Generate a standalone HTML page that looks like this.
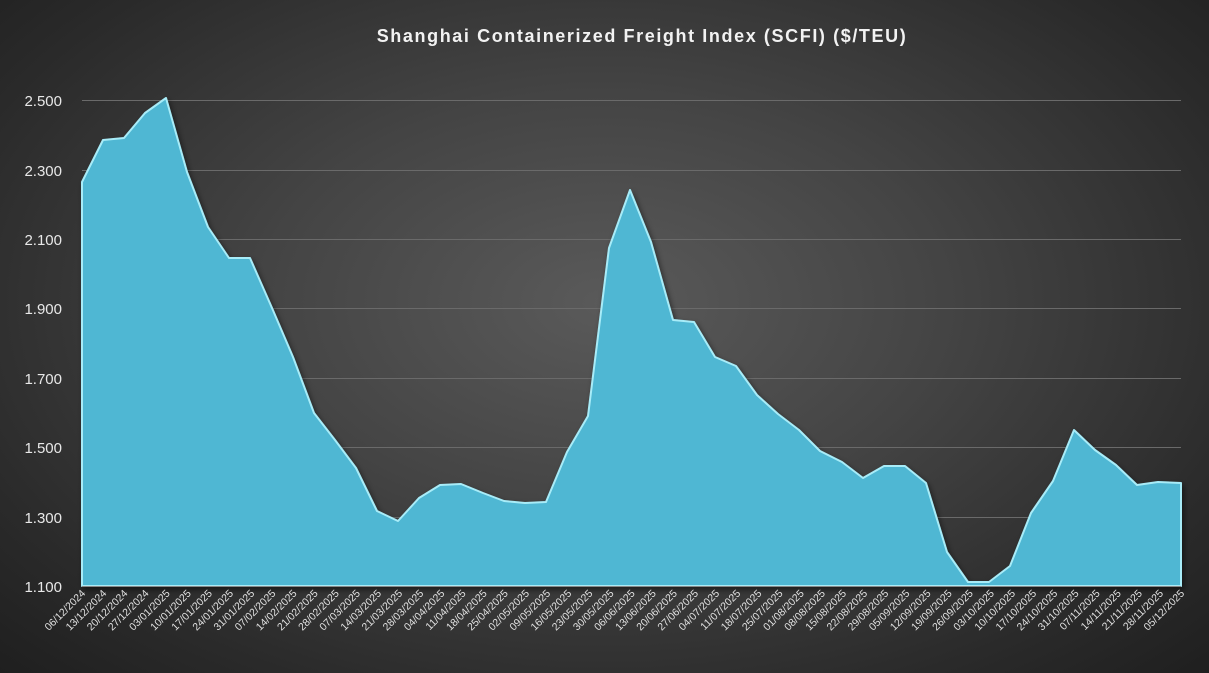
<!DOCTYPE html>
<html><head><meta charset="utf-8"><style>
html,body{margin:0;padding:0}
body{width:1209px;height:673px;overflow:hidden;background:radial-gradient(ellipse at 50% 45%,#5a5a5a 0%,#444 40%,#2a2a2a 80%,#1f1f1f 100%);font-family:"Liberation Sans",sans-serif}
</style></head><body>
<svg width="1209" height="673" xmlns="http://www.w3.org/2000/svg" style="position:absolute;left:0;top:0">
<defs><filter id="sh" x="-5%" y="-5%" width="110%" height="110%"><feDropShadow dx="2" dy="3" stdDeviation="3" flood-color="#000" flood-opacity="0.5"/></filter></defs>
<text x="642" y="42" fill="#f2f2f2" font-size="18" font-weight="bold" text-anchor="middle" letter-spacing="1.6">Shanghai Containerized Freight Index (SCFI) ($/TEU)</text>
<g stroke="#6a6a6a" stroke-width="1">
<line x1="82" x2="1181" y1="100.5" y2="100.5"/><line x1="82" x2="1181" y1="170.5" y2="170.5"/><line x1="82" x2="1181" y1="239.5" y2="239.5"/><line x1="82" x2="1181" y1="308.5" y2="308.5"/><line x1="82" x2="1181" y1="378.5" y2="378.5"/><line x1="82" x2="1181" y1="447.5" y2="447.5"/><line x1="82" x2="1181" y1="517.5" y2="517.5"/>
</g>
<g fill="#e8e8e8" font-size="15" text-anchor="end">
<text x="62" y="106">2.500</text><text x="62" y="176">2.300</text><text x="62" y="245">2.100</text><text x="62" y="314">1.900</text><text x="62" y="384">1.700</text><text x="62" y="453">1.500</text><text x="62" y="523">1.300</text><text x="62" y="592">1.100</text>
</g>
<path filter="url(#sh)" fill="#4fb7d3" stroke="#a8ecf8" stroke-width="2" stroke-linejoin="round" d="M82,586 L82,182 103,140 124,138 145,113 166,98 187,172 208,227 229,258 250,258 272,308 293,357 314,413 335,440 356,468 377,511 398,521 419,498 440,485 461,484 483,493 504,501 525,503 546,502 567,452 588,416 609,248 630,190 651,242 673,320 694,322 715,357 736,366 757,395 778,414 799,430 820,451 842,462 863,478 884,466 905,466 926,483 947,552 968,582 989,582 1010,566 1031,513 1053,481 1074,430 1095,450 1116,465 1137,485 1158,482 1181,483 L1181,586 Z"/>
<line x1="82" x2="1181" y1="586.5" y2="586.5" stroke="#888"/>
<g id="lbl" fill="#e0e0e0" font-size="10.5" text-anchor="end"></g>
</svg>
<script>
var d=["06/12/2024","13/12/2024","20/12/2024","27/12/2024","03/01/2025","10/01/2025","17/01/2025","24/01/2025","31/01/2025","07/02/2025","14/02/2025","21/02/2025","28/02/2025","07/03/2025","14/03/2025","21/03/2025","28/03/2025","04/04/2025","11/04/2025","18/04/2025","25/04/2025","02/05/2025","09/05/2025","16/05/2025","23/05/2025","30/05/2025","06/06/2025","13/06/2025","20/06/2025","27/06/2025","04/07/2025","11/07/2025","18/07/2025","25/07/2025","01/08/2025","08/08/2025","15/08/2025","22/08/2025","29/08/2025","05/09/2025","12/09/2025","19/09/2025","26/09/2025","03/10/2025","10/10/2025","17/10/2025","24/10/2025","31/10/2025","07/11/2025","14/11/2025","21/11/2025","28/11/2025","05/12/2025"];
var g=document.getElementById("lbl"),s="";
for(var i=0;i<d.length;i++){var x=82+i*(1099/52)+4,y=594;s+='<text transform="translate('+x+','+y+') rotate(-45)">'+d[i]+'</text>';}
g.innerHTML=s;
</script>
</body></html>
